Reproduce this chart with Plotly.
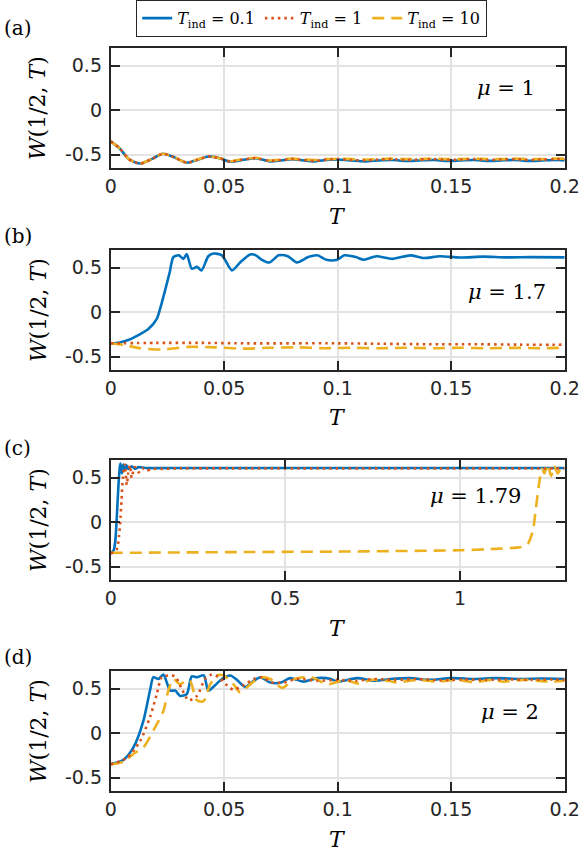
import plotly.graph_objects as go

W_PX, H_PX = 581, 851
BLUE, ORANGE, YELLOW = "#0072BD", "#D95319", "#EDB120"
INK = "#262626"
GRID = "#e3e3e3"
MATH = "DejaVu Serif"
SANS = "DejaVu Sans"

# ---- datos ----
# (a) mu = 1
ta = [0, 0.004, 0.008, 0.013, 0.018, 0.023, 0.028, 0.0335, 0.038, 0.043, 0.048, 0.0527,
      0.058, 0.064, 0.070, 0.075, 0.080, 0.085, 0.090, 0.095, 0.100, 0.106, 0.112, 0.118,
      0.124, 0.130, 0.136, 0.142, 0.148, 0.154, 0.160, 0.166, 0.172, 0.178, 0.184, 0.190,
      0.196, 0.200]
wa_blue = [-0.35, -0.43, -0.55, -0.60, -0.55, -0.49, -0.53, -0.59, -0.56, -0.52, -0.54, -0.58,
           -0.56, -0.54, -0.575, -0.565, -0.55, -0.565, -0.575, -0.56, -0.555, -0.565, -0.575,
           -0.565, -0.56, -0.57, -0.565, -0.56, -0.57, -0.565, -0.56, -0.57, -0.565, -0.56,
           -0.57, -0.565, -0.56, -0.565]
wa_orange = [-0.35, -0.43, -0.55, -0.60, -0.55, -0.49, -0.53, -0.59, -0.56, -0.52, -0.54, -0.575,
             -0.555, -0.54, -0.57, -0.56, -0.55, -0.56, -0.57, -0.555, -0.55, -0.56, -0.565,
             -0.555, -0.55, -0.56, -0.555, -0.55, -0.56, -0.555, -0.55, -0.56, -0.555, -0.55,
             -0.56, -0.555, -0.55, -0.555]
wa_yellow = [-0.35, -0.43, -0.55, -0.60, -0.55, -0.49, -0.53, -0.59, -0.555, -0.52, -0.54, -0.575,
             -0.55, -0.535, -0.565, -0.555, -0.545, -0.555, -0.56, -0.55, -0.545, -0.55, -0.555,
             -0.55, -0.545, -0.55, -0.55, -0.545, -0.55, -0.55, -0.545, -0.55, -0.55, -0.545,
             -0.55, -0.55, -0.545, -0.545]

# (b) mu = 1.7
tb_blue = [0, 0.004, 0.008, 0.012, 0.0166, 0.0203, 0.022, 0.024, 0.026, 0.0276, 0.030, 0.032,
           0.0335, 0.0357, 0.038, 0.040, 0.043, 0.0453, 0.049, 0.0534, 0.057, 0.0615, 0.064,
           0.0666, 0.070, 0.074, 0.078, 0.082, 0.087, 0.091, 0.095, 0.0997, 0.103, 0.108,
           0.1115, 0.117, 0.124, 0.132, 0.138, 0.145, 0.154, 0.164, 0.174, 0.185, 0.200]
wb_blue = [-0.35, -0.34, -0.31, -0.26, -0.19, -0.075, 0.06, 0.25, 0.45, 0.62, 0.64, 0.60,
           0.655, 0.49, 0.51, 0.47, 0.63, 0.66, 0.64, 0.47, 0.56, 0.65, 0.64, 0.59, 0.56, 0.64,
           0.63, 0.56, 0.62, 0.64, 0.59, 0.59, 0.64, 0.62, 0.59, 0.63, 0.60, 0.64, 0.61, 0.63,
           0.615, 0.625, 0.617, 0.62, 0.617]
tb_orange = [0, 0.02, 0.04, 0.06, 0.08, 0.10, 0.12, 0.14, 0.16, 0.18, 0.20]
wb_orange = [-0.35, -0.345, -0.345, -0.35, -0.35, -0.35, -0.355, -0.36, -0.36, -0.365, -0.365]
tb_yellow = [0, 0.006, 0.013, 0.0225, 0.034, 0.046, 0.058, 0.070, 0.082, 0.094, 0.106, 0.118,
             0.130, 0.142, 0.154, 0.166, 0.178, 0.190, 0.200]
wb_yellow = [-0.35, -0.37, -0.405, -0.42, -0.39, -0.395, -0.41, -0.40, -0.395, -0.405, -0.40,
             -0.405, -0.40, -0.405, -0.40, -0.405, -0.40, -0.405, -0.40]

# (c) mu = 1.79
tc_blue = [0, 0.008, 0.013, 0.018, 0.022, 0.026, 0.028, 0.032, 0.036, 0.040, 0.045, 0.050,
           0.060, 0.070, 0.080, 0.100, 0.200, 0.400, 0.600, 0.800, 1.000, 1.200, 1.300]
wc_blue = [-0.35, -0.32, -0.22, 0.10, 0.40, 0.62, 0.66, 0.55, 0.65, 0.58, 0.64, 0.60, 0.63,
           0.60, 0.62, 0.61, 0.61, 0.61, 0.61, 0.61, 0.61, 0.61, 0.61]
tc_orange = [0, 0.010, 0.018, 0.024, 0.028, 0.031, 0.034, 0.038, 0.041, 0.046, 0.050, 0.055,
             0.060, 0.065, 0.070, 0.080, 0.090, 0.100, 0.120, 0.150, 0.200, 0.400, 0.600,
             0.800, 1.000, 1.200, 1.300]
wc_orange = [-0.35, -0.33, -0.30, -0.15, 0.05, 0.25, 0.45, 0.60, 0.65, 0.42, 0.55, 0.64, 0.50,
             0.58, 0.62, 0.56, 0.61, 0.58, 0.60, 0.60, 0.605, 0.605, 0.605, 0.605, 0.605,
             0.605, 0.605]
tc_yellow = [0, 0.2, 0.4, 0.66, 0.8, 1.0, 1.1, 1.15, 1.175, 1.194, 1.209, 1.218, 1.228, 1.235,
             1.242, 1.251, 1.261, 1.270, 1.280, 1.290, 1.300]
wc_yellow = [-0.345, -0.34, -0.335, -0.33, -0.325, -0.315, -0.30, -0.29, -0.28, -0.245, -0.09,
             0.17, 0.47, 0.60, 0.55, 0.65, 0.52, 0.63, 0.55, 0.61, 0.60]

# (d) mu = 2
td_blue = [0, 0.0056, 0.010, 0.0144, 0.0173, 0.0188, 0.021, 0.0232, 0.0262, 0.0284, 0.0306,
           0.0335, 0.0357, 0.038, 0.041, 0.043, 0.046, 0.049, 0.0527, 0.0556, 0.0593, 0.063,
           0.066, 0.0703, 0.075, 0.079, 0.085, 0.091, 0.097, 0.0997, 0.1086, 0.116, 0.1233,
           0.132, 0.140, 0.150, 0.160, 0.170, 0.180, 0.190, 0.200]
wd_blue = [-0.35, -0.30, -0.16, 0.14, 0.48, 0.63, 0.61, 0.66, 0.48, 0.48, 0.42, 0.44, 0.64,
           0.63, 0.65, 0.48, 0.54, 0.61, 0.65, 0.60, 0.52, 0.59, 0.63, 0.57, 0.57, 0.62, 0.58,
           0.62, 0.61, 0.58, 0.62, 0.59, 0.61, 0.62, 0.60, 0.62, 0.61, 0.62, 0.61, 0.615, 0.61]
td_orange = [0, 0.007, 0.0129, 0.0173, 0.0203, 0.0225, 0.0262, 0.0284, 0.0313, 0.0343, 0.038,
             0.0416, 0.0446, 0.0475, 0.0512, 0.0541, 0.0585, 0.063, 0.0666, 0.071, 0.076,
             0.082, 0.091, 0.0997, 0.108, 0.116, 0.125, 0.135, 0.145, 0.155, 0.165, 0.175,
             0.185, 0.195, 0.200]
wd_orange = [-0.35, -0.28, -0.09, 0.18, 0.44, 0.63, 0.65, 0.64, 0.50, 0.37, 0.42, 0.61, 0.66,
             0.63, 0.54, 0.49, 0.54, 0.61, 0.63, 0.57, 0.57, 0.61, 0.59, 0.60, 0.59, 0.61,
             0.60, 0.61, 0.595, 0.605, 0.60, 0.605, 0.60, 0.605, 0.60]
td_yellow = [0, 0.0056, 0.0107, 0.0144, 0.0188, 0.0232, 0.0254, 0.0276, 0.0306, 0.0335, 0.035,
             0.038, 0.0409, 0.0438, 0.0468, 0.0497, 0.0541, 0.057, 0.0615, 0.066, 0.0703,
             0.0755, 0.081, 0.0882, 0.0956, 0.103, 0.109, 0.115, 0.122, 0.126, 0.135, 0.144,
             0.152, 0.160, 0.168, 0.173, 0.182, 0.194, 0.200]
wd_yellow = [-0.35, -0.32, -0.22, -0.16, 0.03, 0.25, 0.48, 0.61, 0.55, 0.60, 0.59, 0.37, 0.36,
             0.55, 0.65, 0.65, 0.55, 0.46, 0.55, 0.63, 0.61, 0.51, 0.61, 0.63, 0.55, 0.60,
             0.56, 0.60, 0.59, 0.57, 0.60, 0.58, 0.60, 0.575, 0.60, 0.58, 0.60, 0.58, 0.59]

T_IND = ["0.1", "1", "10"]
MU = ["1", "1.7", "1.79", "2"]
LETTERS = ["(a)", "(b)", "(c)", "(d)"]
XT_SHORT = [0, 0.05, 0.1, 0.15, 0.2]
XT_LONG = [0, 0.5, 1]
YT = [-0.5, 0, 0.5]
YT_TEXT = ["-0.5", "0", "0.5"]

PANELS = [
    dict(series=[(ta, wa_blue), (ta, wa_orange), (ta, wa_yellow)], xmax=0.2, xt=XT_SHORT,
         top=48, letter_y=28, mu_x=537, mu_y=88),
    dict(series=[(tb_blue, wb_blue), (tb_orange, wb_orange), (tb_yellow, wb_yellow)],
         xmax=0.2, xt=XT_SHORT, top=250, letter_y=236, mu_x=548, mu_y=292),
    dict(series=[(tc_blue, wc_blue), (tc_orange, wc_orange), (tc_yellow, wc_yellow)],
         xmax=1.3, xt=XT_LONG, top=460, letter_y=448, mu_x=523, mu_y=496),
    dict(series=[(td_blue, wd_blue), (td_orange, wd_orange), (td_yellow, wd_yellow)],
         xmax=0.2, xt=XT_SHORT, top=671, letter_y=657, mu_x=541, mu_y=712),
]
STYLES = [dict(color=BLUE, width=2.6, dash="solid"),
          dict(color=ORANGE, width=2.6, dash="2.5px,4px"),
          dict(color=YELLOW, width=2.6, dash="12px,7px")]
DRAW_ORDER = [0, 2, 1]  # naranja punteada encima de la amarilla

X0, X1 = 110.7, 564.7
PANEL_H = 120


def px_x(p):
    return p / W_PX


def px_y(p):
    return 1 - p / H_PX


fig = go.Figure()
annotations = []
for i, pan in enumerate(PANELS, start=1):
    sfx = "" if i == 1 else str(i)
    for k in DRAW_ORDER:
        t, w = pan["series"][k]
        fig.add_trace(go.Scatter(
            x=t, y=w, mode="lines", xaxis=f"x{sfx}", yaxis=f"y{sfx}",
            line=dict(shape="spline", smoothing=0.7, **STYLES[k]),
            name=f"<i>T</i><sub>ind</sub> = {T_IND[k]}", legendrank=k + 1,
            showlegend=(i == 1),
        ))
    top, bot = pan["top"], pan["top"] + PANEL_H
    common = dict(showline=True, linecolor=INK, linewidth=1.8, mirror="ticks",
                  ticks="inside", ticklen=9, tickwidth=1.8, tickcolor=INK,
                  showgrid=True, gridcolor=GRID, gridwidth=1.5, zeroline=False,
                  automargin=False, tickfont=dict(family=SANS, size=19, color=INK))
    fig.layout[f"xaxis{sfx}"] = dict(
        domain=[px_x(X0), px_x(X1)], anchor=f"y{sfx}", range=[0, pan["xmax"]],
        tickvals=pan["xt"], ticktext=[f"{v:g}" for v in pan["xt"]],
        ticklabelstandoff=0, **common)
    fig.layout[f"yaxis{sfx}"] = dict(
        domain=[px_y(bot), px_y(top)], anchor=f"x{sfx}", range=[-0.65, 0.7],
        tickvals=YT, ticktext=YT_TEXT, ticklabelstandoff=3, **common)
    annotations += [
        dict(text=LETTERS[i - 1], x=px_x(2), y=px_y(pan["letter_y"]), xanchor="left",
             font=dict(family=MATH, size=20, color="black")),
        dict(text=f"<i>μ</i> = {MU[i - 1]}", x=px_x(pan["mu_x"]), y=px_y(pan["mu_y"]),
             xanchor="right", font=dict(family=MATH, size=21, color="black")),
        dict(text="<i>T</i>", x=px_x((X0 + X1) / 2), y=px_y(bot + 48),
             font=dict(family=MATH, size=22, color="black")),
        dict(text="<i>W</i>(1/2, <i>T</i>)", x=px_x(38), y=px_y(top + PANEL_H / 2),
             textangle=-90, font=dict(family=MATH, size=22, color="black")),
    ]
for a in annotations:
    a.update(xref="paper", yref="paper", showarrow=False, yanchor="middle")
    a.setdefault("xanchor", "center")

fig.update_layout(
    width=W_PX, height=H_PX, margin=dict(l=0, r=0, t=0, b=0, autoexpand=False),
    paper_bgcolor="white", plot_bgcolor="white",
    annotations=annotations,
    legend=dict(orientation="h", x=px_x(136), y=px_y(0), xanchor="left", yanchor="top",
                font=dict(family=MATH, size=16, color="black"), bgcolor="white",
                bordercolor=INK, borderwidth=1.2, itemwidth=30, tracegroupgap=0),
)
# sin el margen por defecto del <body>, la figura ocupa la ventana completa
fig.write_html("out.html", config={"displayModeBar": False},
               post_script="document.body.style.margin='0';")
